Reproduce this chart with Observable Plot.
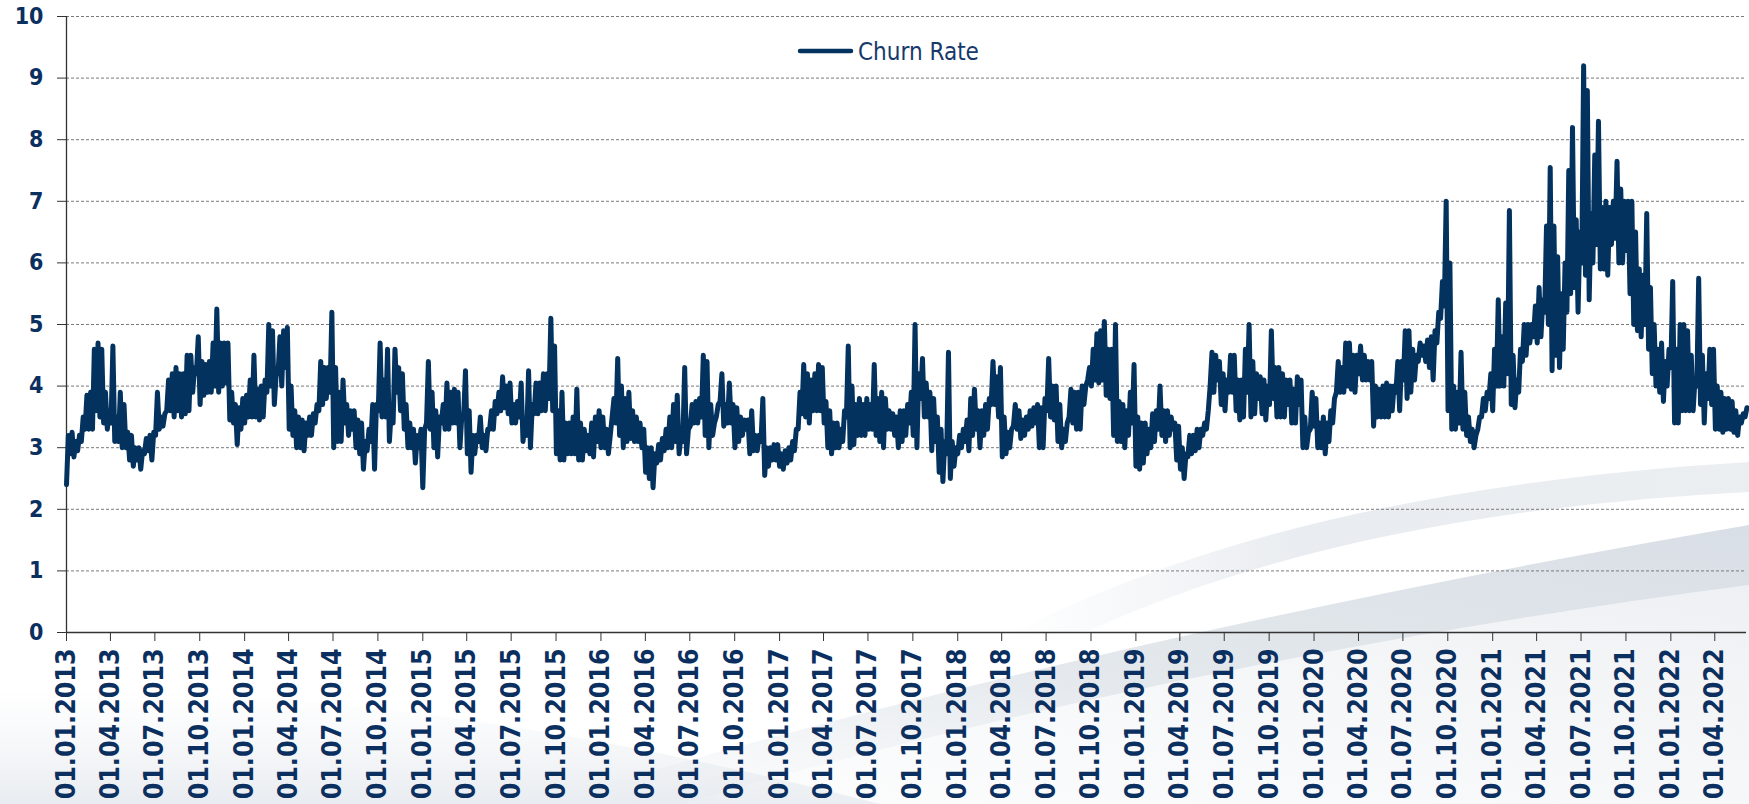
<!DOCTYPE html>
<html>
<head>
<meta charset="utf-8">
<script src="https://cdn.jsdelivr.net/npm/d3@7"></script>
<script src="https://cdn.jsdelivr.net/npm/@observablehq/plot@0.6"></script>
<style>
  html, body { margin: 0; padding: 0; background: #ffffff; }
  #wrap { position: relative; width: 1749px; height: 804px; overflow: hidden; background: #ffffff; }
  #wrap > svg { position: absolute; left: 0; top: 0; }
</style>
</head>
<body>
<div id="wrap">
  <svg id="bg" width="1749" height="804" viewBox="0 0 1749 804">
    <defs>
      <linearGradient id="gArc" x1="0" y1="0" x2="1" y2="0">
        <stop offset="0" stop-color="#e9edf1" stop-opacity="0"/>
        <stop offset="0.4" stop-color="#e3e7ec" stop-opacity="0.8"/>
        <stop offset="1" stop-color="#e6eaee" stop-opacity="0.8"/>
      </linearGradient>
      <linearGradient id="gBand" x1="0" y1="1" x2="1" y2="0">
        <stop offset="0" stop-color="#e3e8ed" stop-opacity="0"/>
        <stop offset="0.45" stop-color="#dbe1e7" stop-opacity="0.75"/>
        <stop offset="1" stop-color="#d2d9e1" stop-opacity="0.85"/>
      </linearGradient>
      <linearGradient id="gLow" x1="0" y1="1" x2="1" y2="0">
        <stop offset="0" stop-color="#f1f3f5" stop-opacity="0.2"/>
        <stop offset="1" stop-color="#eceff2" stop-opacity="0.9"/>
      </linearGradient>
      <linearGradient id="gFog" x1="0" y1="0" x2="0" y2="1">
        <stop offset="0" stop-color="#eef1f4" stop-opacity="0"/>
        <stop offset="1" stop-color="#e6eaef" stop-opacity="0.9"/>
      </linearGradient>
    </defs>
    <path d="M 0 690 Q 400 680 880 804 L 0 804 Z" fill="url(#gFog)"/>
    <path d="M 1000 640 Q 1280 490 1749 462 L 1749 492 Q 1350 512 1090 630 Z" fill="url(#gArc)"/>
    <path d="M 680 804 Q 1180 660 1749 585 L 1749 804 Z" fill="url(#gLow)"/>
    <path d="M 540 804 Q 1080 640 1749 525 L 1749 585 Q 1180 660 680 804 Z" fill="url(#gBand)"/>
  </svg>
  <svg id="legend" width="1749" height="804" viewBox="0 0 1749 804" style="pointer-events:none">
    <line x1="800" y1="51" x2="851" y2="51" stroke="#03325f" stroke-width="4.5" stroke-linecap="round"/>
    <text x="858" y="59.5" font-family="'DejaVu Sans Condensed','DejaVu Sans',sans-serif" font-stretch="condensed" font-size="24" fill="#16396a">Churn Rate</text>
  </svg>
</div>
<script>
// Churn rate: for each of 48 evenly spaced positions per year,
// the low and high edge of the (very noisy, daily) line at that position.
const lo2013 = [2.4,2.9,2.85,2.95,3.1,3.3,3.3,3.3,3.6,3.5,3.4,3.3,3.4,3.1,3.1,3.0,3.0,2.8,2.7,2.8,2.65,2.9,2.95,2.8,3.2,3.3,3.35,3.6,3.6,3.5,3.6,3.5,3.55,3.6,3.9,4.2,3.7,3.85,3.9,3.9,4.0,3.9,4.0,4.05,3.45,3.4,3.05,3.3];
const hi2013 = [3.2,3.25,3.1,3.2,3.5,3.85,3.9,4.6,4.7,4.6,3.9,3.6,4.65,3.5,3.9,3.7,3.25,3.2,3.0,3.0,2.95,3.15,3.2,3.25,3.9,3.5,3.55,4.1,4.2,4.3,4.2,4.2,4.5,4.5,4.3,4.8,4.4,4.35,4.4,4.7,5.25,4.7,4.7,4.7,3.9,3.7,3.65,3.8];
const lo2014 = [3.4,3.5,3.5,3.5,3.45,3.5,3.9,4.0,3.7,4.2,4.0,4.3,3.3,3.2,3.0,3.0,2.95,3.2,3.2,3.4,3.6,3.7,3.8,3.9,3.0,3.1,3.1,3.4,3.2,3.3,3.0,2.9,2.65,2.95,3.1,2.65,3.6,3.5,3.5,3.1,3.4,3.9,3.6,3.3,3.0,3.0,2.75,3.0];
const hi2014 = [3.85,4.1,4.5,3.95,4.0,4.1,5.0,4.9,4.2,4.8,4.9,4.95,4.0,3.6,3.5,3.45,3.4,3.5,3.55,3.7,4.4,4.3,4.3,5.2,4.3,3.9,4.1,3.7,3.6,3.6,3.45,3.4,3.1,3.3,3.7,3.7,4.7,4.1,4.6,3.6,4.6,4.3,4.2,3.7,3.4,3.3,3.2,3.3];
const lo2015 = [2.35,3.4,3.3,3.0,2.85,3.4,3.3,3.3,3.4,3.4,3.0,3.5,2.9,2.6,2.9,3.1,3.0,2.95,3.3,3.3,3.55,3.6,3.65,3.55,3.4,3.4,3.5,3.1,3.2,3.0,3.55,3.55,3.6,3.6,3.8,3.6,2.9,2.8,2.8,2.9,2.9,2.9,2.8,2.8,2.95,2.9,2.85,3.1];
const hi2015 = [3.3,4.4,3.9,3.6,3.5,3.7,4.05,3.9,3.95,3.9,3.5,4.25,3.6,3.2,3.2,3.5,3.2,3.3,3.6,3.75,3.9,4.15,4.0,4.05,3.7,3.75,4.05,3.4,4.25,3.7,4.05,4.05,4.2,4.2,5.1,4.65,3.6,3.9,3.4,3.4,3.5,3.95,3.4,3.3,3.2,3.4,3.5,3.6];
const lo2016 = [3.0,3.0,2.9,3.5,3.4,3.2,3.0,3.1,3.15,3.1,3.1,3.0,2.6,2.5,2.35,2.75,2.8,2.95,3.0,3.0,3.1,2.9,3.1,2.9,3.35,3.4,3.4,3.5,3.2,3.0,3.2,3.5,3.75,3.35,3.4,3.4,3.0,3.1,3.2,3.3,2.9,2.95,2.95,3.1,2.55,2.7,2.8,2.8];
const hi2016 = [3.5,3.3,3.2,3.8,4.45,4.0,3.8,3.9,3.6,3.5,3.4,3.3,3.0,3.0,2.9,3.05,3.15,3.3,3.5,3.7,3.85,3.2,4.3,3.3,3.7,3.75,3.8,4.5,4.4,3.7,3.4,3.7,4.2,3.7,4.05,3.7,3.65,3.5,3.45,3.45,3.6,3.2,3.2,3.8,3.0,3.0,3.05,3.05];
const lo2017 = [2.7,2.65,2.75,2.8,2.95,3.3,3.55,3.5,3.4,3.6,3.6,3.6,3.4,3.0,2.9,3.0,3.0,3.1,3.5,3.0,3.05,3.2,3.2,3.2,3.3,3.3,3.2,3.1,3.0,3.3,3.3,3.2,3.0,3.1,3.2,3.4,3.2,3.0,3.8,3.5,3.5,2.95,3.1,2.6,2.45,2.9,2.5,2.7];
const hi2017 = [2.9,2.95,3.0,3.1,3.3,3.9,4.35,4.2,4.1,4.2,4.35,4.3,3.75,3.6,3.4,3.4,3.3,3.6,4.65,4.0,3.7,3.8,3.7,3.8,3.7,4.35,3.8,3.9,3.8,3.6,3.55,3.5,3.6,3.6,3.7,3.9,5.0,4.2,4.45,4.05,3.9,3.8,3.5,3.3,3.1,4.55,3.1,3.0];
const lo2018 = [2.9,3.0,3.1,2.95,3.2,3.3,3.0,3.2,3.3,3.7,3.7,3.5,2.85,2.9,3.0,3.35,3.3,3.15,3.2,3.3,3.35,3.4,3.0,3.0,3.6,3.5,3.45,3.1,3.0,3.1,3.5,3.4,3.3,3.3,3.7,4.1,4.0,4.1,4.05,4.1,3.85,3.8,3.2,3.1,3.1,3.0,3.2,3.4];
const hi2018 = [3.2,3.3,3.45,3.8,3.95,3.6,3.6,3.7,3.8,4.4,4.15,4.3,3.5,3.25,3.3,3.7,3.6,3.45,3.5,3.6,3.65,3.7,3.65,3.8,4.45,4.0,4.0,3.7,3.3,3.4,3.95,3.9,3.9,4.0,4.0,4.3,4.6,4.85,4.9,5.05,4.6,4.6,5.0,3.75,3.7,3.6,3.9,4.35];
const lo2019 = [2.7,2.65,2.75,2.9,3.0,3.1,3.3,3.2,3.1,3.2,3.3,2.8,2.65,2.5,2.85,2.9,2.95,3.0,3.2,3.3,4.0,3.9,4.1,3.7,3.6,3.9,3.9,3.6,3.45,3.5,3.9,3.5,3.55,3.8,3.55,3.45,3.7,3.8,3.5,3.5,3.5,3.7,3.4,3.4,3.7,3.0,3.0,3.3];
const hi2019 = [3.5,3.4,3.4,3.3,3.55,3.6,4.0,3.6,3.6,3.5,3.4,3.35,3.0,2.9,3.2,3.2,3.3,3.3,3.4,3.6,4.55,4.5,4.4,4.2,4.1,4.5,4.5,4.1,4.1,4.6,5.0,4.4,4.2,4.15,4.1,4.0,4.9,4.3,4.3,4.2,4.1,4.1,3.95,4.15,4.1,3.5,3.25,3.9];
const lo2020 = [3.35,3.0,3.0,2.9,3.1,3.4,3.9,3.9,3.9,4.0,3.95,3.9,4.2,4.1,4.1,4.1,3.35,3.5,3.5,3.5,3.5,3.6,3.9,3.6,4.1,3.8,3.9,4.1,4.4,4.5,4.4,4.3,4.1,4.7,5.1,5.3,3.6,3.3,3.3,3.4,3.3,3.2,3.1,3.0,3.3,3.5,3.6,3.8];
const hi2020 = [3.8,3.4,3.5,3.4,3.6,3.8,4.4,4.3,4.7,4.7,4.5,4.5,4.65,4.5,4.4,4.4,4.0,3.95,4.0,4.05,4.0,4.0,4.4,4.4,4.9,4.9,4.6,4.5,4.7,4.65,4.75,4.8,4.9,5.2,5.7,7.0,6.0,4.0,3.9,4.55,3.9,3.5,3.3,3.2,3.5,3.8,3.9,4.2];
const lo2021 = [3.6,4.0,4.0,4.0,4.2,3.7,3.65,3.9,4.4,4.5,4.7,4.8,4.7,4.8,5.2,5.0,4.25,4.5,4.3,4.6,5.2,5.5,5.6,5.2,6.0,5.8,5.4,6.0,6.3,5.9,5.9,5.8,6.3,6.4,6.0,6.0,6.2,5.5,5.0,4.9,4.8,5.0,4.6,4.2,4.0,3.9,3.75,4.0];
const hi2021 = [4.6,5.4,4.8,5.35,6.85,4.5,4.1,4.6,5.0,5.0,5.0,5.3,5.6,5.4,6.6,7.55,6.6,6.1,5.5,6.0,7.5,8.2,6.7,6.5,9.2,8.8,6.8,7.75,8.3,6.9,7.0,6.9,7.0,7.65,7.2,7.0,7.0,7.0,6.5,5.9,5.8,6.8,5.6,5.0,4.6,4.7,4.4,4.6];
const lo2022 = [4.3,3.4,3.4,3.6,3.6,3.6,3.6,4.0,3.7,3.4,3.8,3.7,3.3,3.3,3.25,3.3,3.3,3.25,3.2,3.4,3.5];
const hi2022 = [5.7,4.6,5.0,5.0,4.9,4.5,4.1,5.75,4.5,4.2,4.6,4.6,4.0,3.9,3.8,3.8,3.75,3.6,3.5,3.55,3.65];

const years = [2013,2014,2015,2016,2017,2018,2019,2020,2021,2022];
const lows  = [lo2013,lo2014,lo2015,lo2016,lo2017,lo2018,lo2019,lo2020,lo2021,lo2022];
const highs = [hi2013,hi2014,hi2015,hi2016,hi2017,hi2018,hi2019,hi2020,hi2021,hi2022];
const yTicks = [0,1,2,3,4,5,6,7,8,9,10];
const seriesName = "Churn Rate";

const DAY = 864e5;
const data = [];
years.forEach((yr, k) => {
  const t0 = Date.UTC(yr, 0, 1);
  const ndays = (yr % 4 === 0) ? 366 : 365;
  const step = ndays / 48;
  lows[k].forEach((lo, i) => {
    data.push({date: new Date(t0 + i * step * DAY), value: lo, series: seriesName});
    data.push({date: new Date(t0 + (i + 0.5) * step * DAY), value: highs[k][i], series: seriesName});
  });
});

const start = new Date(Date.UTC(2013, 0, 1));
const end = new Date(Date.UTC(2022, 5, 5));
const tickDates = d3.utcMonth.every(3).range(start, new Date(Date.UTC(2022, 3, 2)));
const fmt = d3.utcFormat("%d.%m.%Y");

const lineColor = "#03325f";
const labelColor = "#0b2f5f";
const fontFam = "'DejaVu Sans Condensed','DejaVu Sans',sans-serif";

const chart = Plot.plot({
  width: 1749,
  height: 804,
  marginTop: 16,
  marginBottom: 172,
  marginLeft: 66,
  marginRight: 3,
  style: {background: "transparent", overflow: "visible", fontFamily: fontFam},
  x: {type: "utc", domain: [start, end]},
  y: {domain: [0, 10]},
  marks: [
    Plot.gridY(yTicks.filter(d => d > 0), {stroke: "#7a7a7a", strokeOpacity: 1, strokeDasharray: "3,2", strokeWidth: 1}),
    Plot.ruleY([0], {stroke: "#333", strokeWidth: 1.3}),
    Plot.ruleX([start], {stroke: "#333", strokeWidth: 1.3}),
    Plot.axisY({ticks: yTicks, tickSize: 9, tickPadding: 14, fontSize: 23, fontWeight: "bold", fontFamily: fontFam, fill: labelColor, stroke: "#333", label: null}),
    Plot.axisX({ticks: tickDates, tickFormat: fmt, tickRotate: -90, tickSize: 9, tickPadding: 7, fontSize: 26.5, fontWeight: "bold", fontFamily: fontFam, fill: labelColor, stroke: "#333", label: null}),
    Plot.lineY(data, {x: "date", y: "value", stroke: lineColor, strokeWidth: 5, strokeLinejoin: "round", strokeLinecap: "round"})
  ]
});
const wrap = document.getElementById("wrap");
wrap.insertBefore(chart, document.getElementById("legend"));
</script>
</body>
</html>
